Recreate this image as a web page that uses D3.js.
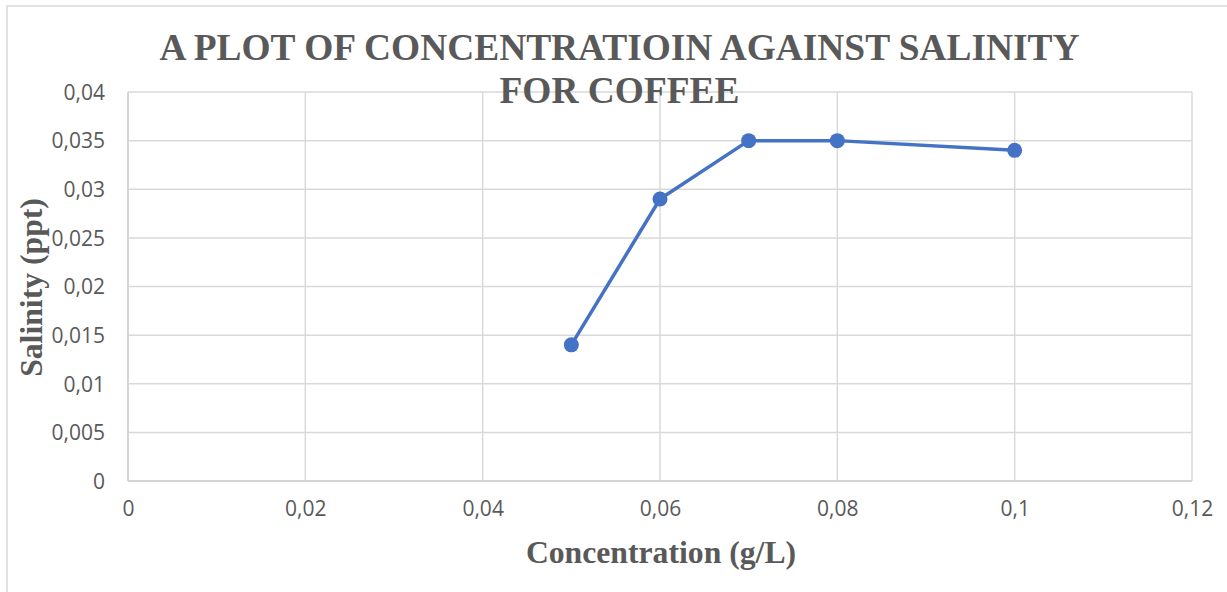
<!DOCTYPE html>
<html>
<head>
<meta charset="utf-8">
<script src="https://cdn.jsdelivr.net/npm/d3@7/dist/d3.min.js"></script>
<style>
  html, body { margin: 0; padding: 0; background: #ffffff; }
  svg { display: block; }
</style>
</head>
<body>
<script>
// ---- Data ----
const concentration = [0.05, 0.06, 0.07, 0.08, 0.1];
const salinity = [0.014, 0.029, 0.035, 0.035, 0.034];
const xTicks = [0, 0.02, 0.04, 0.06, 0.08, 0.1, 0.12];
const yTicks = [0, 0.005, 0.01, 0.015, 0.02, 0.025, 0.03, 0.035, 0.04];
const titleLines = ["A PLOT OF CONCENTRATIOIN AGAINST SALINITY", "FOR COFFEE"];
const xTitle = "Concentration (g/L)";
const yTitle = "Salinity (ppt)";

const W = 1227, H = 592;
const plot = { left: 128, right: 1192, top: 92, bottom: 481 };
const fmt = d => String(d).replace(".", ",");

const svg = d3.select("body").append("svg").attr("width", W).attr("height", H);

// chart border
svg.append("rect")
  .attr("x", 7).attr("y", 6).attr("width", W + 20).attr("height", H + 20)
  .attr("fill", "#fff").attr("stroke", "#d9d9d9").attr("stroke-width", 1.5);

const x = d3.scaleLinear().domain([0, 0.12]).range([plot.left, plot.right]);
const y = d3.scaleLinear().domain([0, 0.04]).range([plot.bottom, plot.top]);

// gridlines
svg.append("g").selectAll("line.h").data(yTicks).join("line")
  .attr("x1", plot.left).attr("x2", plot.right)
  .attr("y1", d => y(d)).attr("y2", d => y(d))
  .attr("stroke", "#d9d9d9").attr("stroke-width", 1.5);
svg.append("g").selectAll("line.v").data(xTicks).join("line")
  .attr("y1", plot.top).attr("y2", plot.bottom)
  .attr("x1", d => x(d)).attr("x2", d => x(d))
  .attr("stroke", "#d9d9d9").attr("stroke-width", 1.5);

// axes (labels only, via d3 axis)
const yAxis = d3.axisLeft(y).tickValues(yTicks).tickFormat(fmt).tickSize(0).tickPadding(23);
const gy = svg.append("g").attr("transform", `translate(${plot.left},0)`).call(yAxis);
const xAxis = d3.axisBottom(x).tickValues(xTicks).tickFormat(fmt).tickSize(0).tickPadding(20);
const gx = svg.append("g").attr("transform", `translate(0,${plot.bottom})`).call(xAxis);
[gx, gy].forEach(g => {
  g.select(".domain").remove();
  g.selectAll("text").attr("font-family", "'Open Sans', sans-serif")
    .attr("font-size", 21).attr("fill", "#595959");
});
gy.selectAll("text").attr("dy", "0.35em");
gx.selectAll("text").attr("dy", "0.71em");

// axis lines
svg.append("line").attr("x1", plot.left).attr("x2", plot.right)
  .attr("y1", plot.bottom).attr("y2", plot.bottom)
  .attr("stroke", "#d0d0d0").attr("stroke-width", 1.5);
svg.append("line").attr("x1", plot.left).attr("x2", plot.left)
  .attr("y1", plot.top).attr("y2", plot.bottom)
  .attr("stroke", "#d0d0d0").attr("stroke-width", 1.5);

// series
const pts = concentration.map((c, i) => [c, salinity[i]]);
svg.append("path").datum(pts)
  .attr("d", d3.line().x(d => x(d[0])).y(d => y(d[1])))
  .attr("fill", "none").attr("stroke", "#4472C4").attr("stroke-width", 3.5)
  .attr("stroke-linejoin", "round");
svg.append("g").selectAll("circle").data(pts).join("circle")
  .attr("cx", d => x(d[0])).attr("cy", d => y(d[1])).attr("r", 7.5)
  .attr("fill", "#4472C4");

// title
svg.append("g").selectAll("text").data(titleLines).join("text")
  .attr("x", 619.5).attr("y", (d, i) => 60 + i * 43)
  .attr("text-anchor", "middle")
  .attr("font-family", "'Liberation Serif', 'Times New Roman', serif")
  .attr("font-weight", "bold").attr("font-size", 37.4).attr("fill", "#595959")
  .text(d => d);

// axis titles
svg.append("text").attr("x", (plot.left + plot.right) / 2 + 1).attr("y", 563)
  .attr("text-anchor", "middle")
  .attr("font-family", "'Liberation Serif', 'Times New Roman', serif")
  .attr("font-weight", "bold").attr("font-size", 31.7).attr("fill", "#595959")
  .text(xTitle);
svg.append("text")
  .attr("transform", `translate(42,${(plot.top + plot.bottom) / 2 + 1}) rotate(-90)`)
  .attr("text-anchor", "middle")
  .attr("font-family", "'Liberation Serif', 'Times New Roman', serif")
  .attr("font-weight", "bold").attr("font-size", 31.7).attr("fill", "#595959")
  .text(yTitle);
</script>
</body>
</html>
